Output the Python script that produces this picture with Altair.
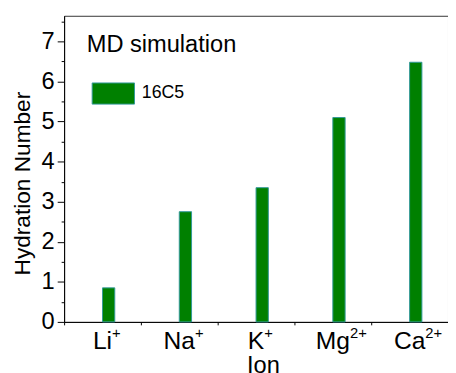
import altair as alt
import pandas as pd

# ---- data ----
bases = ["Li", "Na", "K", "Mg", "Ca"]
charges = ["+", "+", "+", "2+", "2+"]
positions = [1, 2, 3, 4, 5]
hydration = [0.85, 2.75, 3.35, 5.10, 6.48]
series = ["16C5", "16C5", "16C5", "16C5", "16C5"]
y_ticks = [0, 0.5, 1, 1.5, 2, 2.5, 3, 3.5, 4, 4.5, 5, 5.5, 6, 6.5, 7, 7.5]
x_ticks = [0.5, 1, 1.5, 2, 2.5, 3, 3.5, 4, 4.5, 5, 5.5]

FONT = "Liberation Sans"
GREEN = "#008000"
EDGE = "#339999"
LABEL_SIZE = 25
SUP_SIZE = 15

# Arial/Liberation Sans advance widths (em) to put the superscript right after the base text
ARIAL_W = {"L": 0.556, "i": 0.222, "N": 0.722, "a": 0.556, "K": 0.667,
           "M": 0.833, "g": 0.556, "C": 0.722}
half_w = [sum(ARIAL_W[c] for c in b) * LABEL_SIZE / 2 for b in bases]

df = pd.DataFrame({"base": bases, "charge": charges, "pos": positions,
                   "value": hydration, "series": series, "half": half_w})

x_scale = alt.Scale(domain=[0.5, 5.5], nice=False, zero=False)
y_scale = alt.Scale(domain=[0, 7.64], nice=False)

x_axis = alt.Axis(
    values=x_ticks,
    labels=False,
    title="Ion",
    titleFont=FONT, titleFontSize=24, titleFontWeight="normal", titleColor="black",
    titleY=32, titleX=202, titleBaseline="top",
    tickSize={"condition": {"test": "datum.value % 1 === 0", "value": 5}, "value": 3},
    tickColor="black", domainColor="black", grid=False,
)

y_axis = alt.Axis(
    values=y_ticks,
    labelExpr="datum.value % 1 === 0 ? format(datum.value, 'd') : ''",
    title="Hydration Number",
    titleFont=FONT, titleFontSize=23, titleFontWeight="normal", titleColor="black",
    titlePadding=7, titleY=170,
    labelFont=FONT, labelFontSize=24, labelColor="black", labelPadding=3,
    labelOverlap=False, labelFlush=False, labelBound=False,
    tickSize={"condition": {"test": "datum.value % 1 === 0", "value": 7}, "value": 3},
    tickColor="black", domainColor="black", grid=False,
)

base = alt.Chart(df)

bars = (
    base.transform_calculate(pos2="datum.pos + 0.16")
    .mark_rect(stroke=EDGE, strokeWidth=1)
    .encode(
        x=alt.X("pos:Q", scale=x_scale, axis=x_axis),
        x2="pos2:Q",
        y=alt.Y("value:Q", scale=y_scale, axis=y_axis),
        y2=alt.datum(0),
        color=alt.Color(
            "series:N",
            scale=alt.Scale(range=[GREEN]),
            legend=alt.Legend(
                title=None, orient="none", legendX=28, legendY=57,
                symbolType="M-1,-0.5L1,-0.5L1,0.5L-1,0.5Z", symbolSize=1849,
                symbolStrokeColor=EDGE, symbolStrokeWidth=1,
                labelFont=FONT, labelFontSize=18, labelColor="black",
                labelOffset=7, padding=0,
            ),
        ),
    )
)

base_labels = base.mark_text(
    align="center", baseline="alphabetic", font=FONT, fontSize=LABEL_SIZE,
    color="black", clip=False,
).encode(
    x=alt.X("pos:Q", scale=x_scale),
    y=alt.value(339),
    text="base:N",
)

sup_labels = base.mark_text(
    align="left", baseline="alphabetic", font=FONT, fontSize=SUP_SIZE,
    color="black", clip=False, dx=alt.ExprRef("datum.half"),
).encode(
    x=alt.X("pos:Q", scale=x_scale),
    y=alt.value(327),
    text="charge:N",
)

chart = (
    alt.layer(bars, base_labels, sup_labels)
    .properties(
        width=390,
        height=311,
        padding={"left": 57, "top": 5, "right": 0, "bottom": 49},
        autosize=alt.AutoSizeParams(type="none"),
        title=alt.TitleParams(
            "MD simulation", anchor="start", frame="group", orient="top",
            offset=0, dx=23, dy=67, baseline="alphabetic",
            font=FONT, fontSize=24, fontWeight="normal", color="black",
        ),
        background="white",
    )
    .configure_view(stroke="#333333", strokeWidth=1)
)

chart.save("out.html", embed_options={"renderer": "svg", "actions": False})
